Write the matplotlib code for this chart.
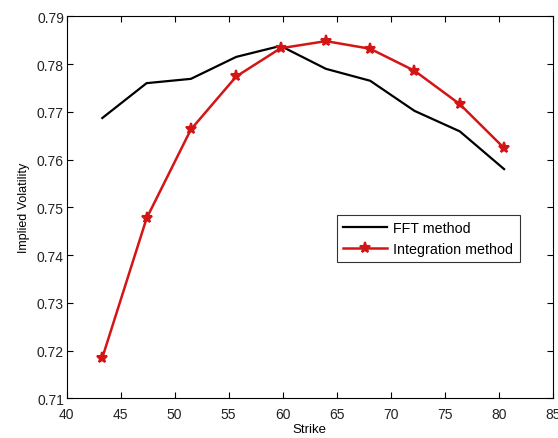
import matplotlib
matplotlib.use("Agg")
import matplotlib.pyplot as plt
from matplotlib.ticker import FormatStrFormatter

plt.rcParams["font.family"] = ["Liberation Sans", "DejaVu Sans"]

strike = [43.3, 47.4, 51.5, 55.7, 59.8, 64.0, 68.1, 72.2, 76.4, 80.5]
fft_vol = [0.7687, 0.7760, 0.7769, 0.7815, 0.7838, 0.7790, 0.7765, 0.7702, 0.7659, 0.7580]
integ_vol = [0.7185, 0.7477, 0.7663, 0.7774, 0.7833, 0.7848, 0.7832, 0.7786, 0.7716, 0.7624]

fig = plt.figure(figsize=(5.58, 4.39), dpi=100)
ax = fig.add_axes([0.1195, 0.0904, 0.871, 0.8702])

ax.plot(strike, fft_vol, color="black", linewidth=1.6, label="FFT method")
ax.plot(strike, integ_vol, color="#d41515", linewidth=1.8, marker="*",
        markersize=8, markeredgewidth=1.5, label="Integration method")

ax.set_xlim(40, 85)
ax.set_ylim(0.71, 0.79)
ax.set_xticks(range(40, 86, 5))
ax.set_yticks([0.71 + 0.01 * i for i in range(9)])
ax.yaxis.set_major_formatter(FormatStrFormatter("%.2f"))
ax.tick_params(direction="in", top=True, right=True, labelsize=10, length=4,
               labelcolor="#222222")
ax.tick_params(axis="y", pad=2)
ax.tick_params(axis="x", pad=6)
for spine in ax.spines.values():
    spine.set_linewidth(0.8)

ax.set_xlabel("Strike", fontsize=9.5, labelpad=2)
ax.set_ylabel("Implied Volatility", fontsize=9, labelpad=5)

leg = ax.legend(loc="upper left", bbox_to_anchor=(0.5556, 0.48), fontsize=10.3,
                frameon=True, fancybox=False, handlelength=3.1, borderaxespad=0,
                borderpad=0.45, labelspacing=0.45, handletextpad=0.4)
leg.get_frame().set_edgecolor("black")
leg.get_frame().set_linewidth(0.8)

fig.savefig("out.png", dpi=100)
